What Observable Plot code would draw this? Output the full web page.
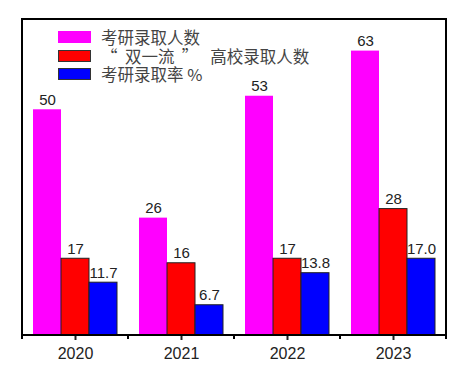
<!DOCTYPE html>
<html lang="zh-CN">
<head>
<meta charset="utf-8">
<script src="https://cdn.jsdelivr.net/npm/d3@7"></script>
<script src="https://cdn.jsdelivr.net/npm/@observablehq/plot@0.6"></script>
<style>
  html, body { margin: 0; padding: 0; background: #fff; }
  #wrap { position: relative; width: 470px; height: 371px; }
  #legend { position: absolute; left: 58px; top: 28px; font-family: "Noto Sans CJK SC", sans-serif; font-size: 16.5px; line-height: 18.5px; color: #444; }
  .row { display: flex; align-items: center; height: 18.5px; line-height: 18.5px; white-space: pre; }
  .sw { width: 33px; height: 12px; margin-right: 10px; box-sizing: border-box; flex: none; }
</style>
</head>
<body>
<div id="wrap"></div>
<script>
const years = ["2020", "2021", "2022", "2023"];
const series = ["考研录取人数", "“  双一流  ”　 高校录取人数", "考研录取率 %"];
const examAdmitted = [50, 26, 53, 63];
const dualAdmitted = [17, 16, 17, 28];
const admitRate = [11.7, 6.7, 13.8, 17.0];
const colors = ["#ff00ff", "#ff0000", "#0000ff"];

const data = years.flatMap((y, i) => [
  {year: y, series: series[0], value: examAdmitted[i], label: String(examAdmitted[i])},
  {year: y, series: series[1], value: dualAdmitted[i], label: String(dualAdmitted[i])},
  {year: y, series: series[2], value: admitRate[i], label: admitRate[i].toFixed(1)}
]);

const mL = 22, mR = 24, mT = 19, mB = 36, W = 470, H = 371;

const plot = Plot.plot({
  width: W, height: H,
  marginLeft: mL, marginRight: mR, marginTop: mT, marginBottom: mB,
  style: {fontFamily: "Arial, 'Liberation Sans', sans-serif", background: "#fff", color: "#222"},
  fx: {domain: years, paddingInner: 0, paddingOuter: 0, axis: null, label: null},
  x: {domain: series, paddingInner: 0, paddingOuter: 0.345, axis: null},
  y: {domain: [0, 70], axis: null},
  color: {domain: series, range: colors},
  marks: [
    Plot.barY(data.filter(d => d.series === series[0]), {fx: "year", x: "series", y: "value", fill: "series"}),
    Plot.barY(data.filter(d => d.series !== series[0]), {fx: "year", x: "series", y: "value", fill: "series", stroke: "#222", strokeWidth: 1}),
    Plot.text(data, {fx: "year", x: "series", y: "value", text: "label", dy: -5, lineAnchor: "bottom", fontSize: 15, fill: "#222"}),
    Plot.axisFx({anchor: "bottom", tickSize: 5, tickPadding: 7, strokeWidth: 2, fontSize: 16, label: null, fill: "#222"})
  ]
});

const wrap = document.getElementById("wrap");
wrap.appendChild(plot);

// frame and minor ticks at band boundaries
const svg = d3.select(plot.tagName.toLowerCase() === "svg" ? plot : plot.querySelector("svg"));
const fx = plot.scale("fx");
const bounds = years.map(y => fx.apply(y)).concat([fx.apply(years[years.length - 1]) + fx.bandwidth]);
const g = svg.append("g");
g.selectAll("line.minor").data(bounds).join("line")
  .attr("x1", d => d).attr("x2", d => d)
  .attr("y1", H - mB).attr("y2", H - mB + 4)
  .attr("stroke", "#000").attr("stroke-width", 2);
g.append("rect")
  .attr("x", mL).attr("y", mT)
  .attr("width", W - mL - mR).attr("height", H - mT - mB)
  .attr("fill", "none").attr("stroke", "#000").attr("stroke-width", 2);

// legend overlay
const legend = document.createElement("div");
legend.id = "legend";
series.forEach((s, i) => {
  const row = document.createElement("div");
  row.className = "row";
  const sw = document.createElement("div");
  sw.className = "sw";
  sw.style.background = colors[i];
  if (i > 0) sw.style.border = "1px solid #333";
  const t = document.createElement("span");
  t.textContent = s;
  row.appendChild(sw);
  row.appendChild(t);
  legend.appendChild(row);
});
wrap.appendChild(legend);
</script>
</body>
</html>
